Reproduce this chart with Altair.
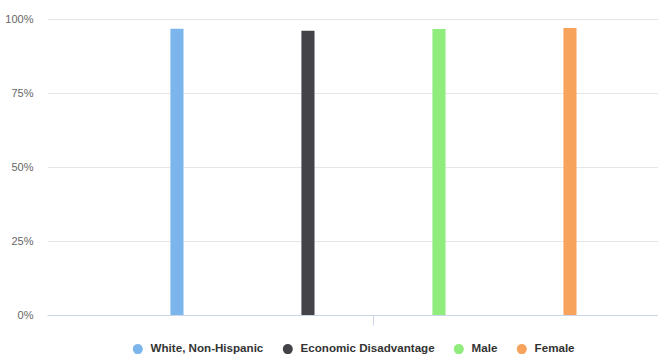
import altair as alt
import pandas as pd

categories = ["All Students"]
series = ["White, Non-Hispanic", "Economic Disadvantage", "Male", "Female"]
values = [96.7, 96.0, 96.6, 97.0]
colors = ["#7cb5ec", "#434348", "#90ed7d", "#f7a35c"]
y_ticks = [0, 0.25, 0.5, 0.75, 1.0]

df = pd.DataFrame({
    "category": categories * len(series),
    "series": series,
    "value": [v / 100 for v in values],
})

chart = alt.Chart(df).mark_bar().encode(
    x=alt.X("category:N",
            scale=alt.Scale(paddingInner=0, paddingOuter=0.083, align=0.741),
            axis=alt.Axis(title=None, labels=False, ticks=True, tickSize=10,
                          tickColor="#ccd6eb", domainColor="#ccd6eb", domainWidth=1,
                          grid=False)),
    xOffset=alt.XOffset("series:N", sort=series,
                        scale=alt.Scale(paddingInner=0.9, paddingOuter=0.45)),
    y=alt.Y("value:Q",
            scale=alt.Scale(domain=[0, 1], nice=False),
            axis=alt.Axis(title=None, values=y_ticks, format=".0%", domain=False,
                          ticks=False, labelPadding=14, labelColor="#666666",
                          labelFontSize=11, labelFont="Liberation Sans",
                          gridColor="#e6e6e6", gridWidth=1)),
    color=alt.Color("series:N", sort=series,
                    scale=alt.Scale(domain=series, range=colors),
                    legend=alt.Legend(title=None, orient="none", direction="horizontal",
                                      legendX=85, legendY=324,
                                      symbolType="circle", symbolSize=100,
                                      symbolStrokeWidth=0, labelFont="Liberation Sans",
                                      labelFontSize=11.6, labelFontWeight="bold",
                                      labelColor="#333333", columnPadding=18,
                                      labelOffset=7)),
).properties(
    width=611,
    height=296,
    padding={"left": 47, "top": 19, "right": 0, "bottom": 39},
    autosize=alt.AutoSizeParams(type="none"),
    background="#ffffff",
).configure_view(stroke=None)

chart.save("out.html", embed_options={"renderer": "svg", "actions": False})
